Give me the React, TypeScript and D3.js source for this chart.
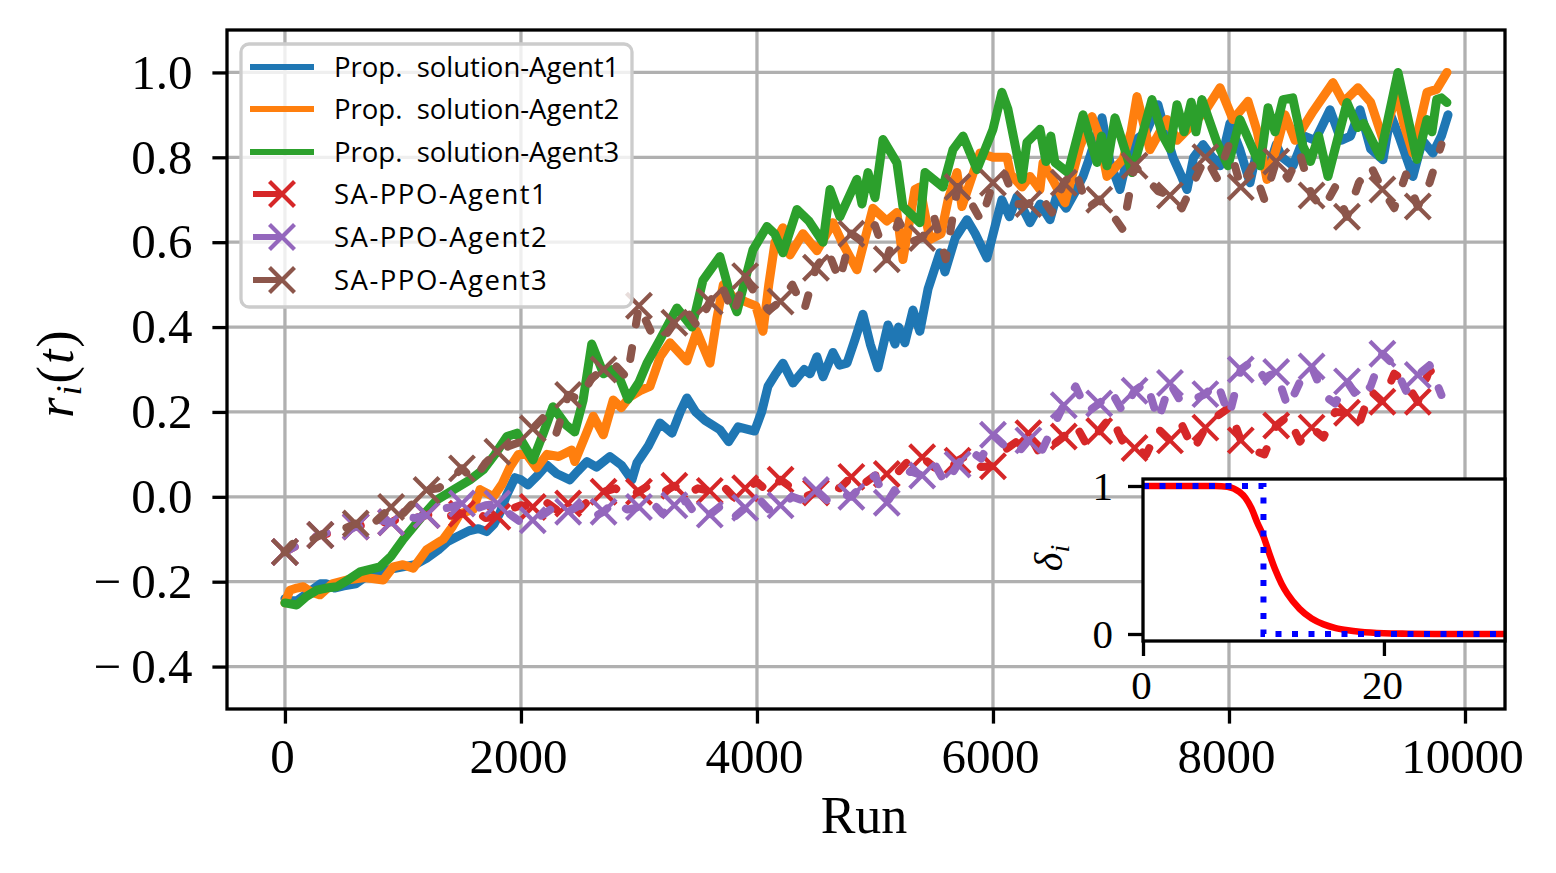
// App.tsx
import React, { useEffect, useRef } from 'react';
import * as d3 from 'd3';

const width = 1556;
const height = 873;

const xTicks = [0, 2000, 4000, 6000, 8000, 10000];
const yTicks = [-0.4, -0.2, 0, 0.2, 0.4, 0.6, 0.8, 1.0];

// proposed solution
const blueRuns = [0, 60, 100, 200, 300, 350, 420, 500, 600, 700, 800, 900, 1000, 1100, 1200, 1300, 1380, 1458, 1560, 1640, 1709, 1770, 1822, 1880, 1949, 2000, 2059, 2140, 2218, 2300, 2415, 2480, 2559, 2640, 2754, 2850, 2940, 2983, 3080, 3178, 3280, 3350, 3406, 3480, 3560, 3686, 3760, 3840, 3980, 4040, 4093, 4160, 4220, 4305, 4400, 4450, 4508, 4560, 4644, 4700, 4763, 4830, 4898, 4960, 5025, 5110, 5170, 5200, 5254, 5322, 5380, 5450, 5550, 5593, 5680, 5780, 5850, 5949, 6020, 6076, 6140, 6203, 6314, 6400, 6483, 6540, 6620, 6700, 6763, 6820, 6924, 6990, 7076, 7140, 7203, 7300, 7398, 7460, 7525, 7590, 7644, 7700, 7780, 7860, 7924, 8008, 8090, 8178, 8240, 8322, 8400, 8450, 8542, 8640, 8730, 8856, 8950, 9030, 9110, 9200, 9305, 9370, 9440, 9559, 9640, 9729, 9800, 9856];
const blueVals = [-0.24, -0.245, -0.245, -0.225, -0.205, -0.205, -0.215, -0.21, -0.205, -0.185, -0.18, -0.17, -0.165, -0.16, -0.145, -0.125, -0.105, -0.094, -0.08, -0.075, -0.082, -0.065, -0.038, 0.005, 0.045, 0.04, 0.028, 0.05, 0.075, 0.055, 0.04, 0.06, 0.083, 0.07, 0.095, 0.075, 0.04, 0.08, 0.12, 0.174, 0.15, 0.2, 0.233, 0.2, 0.18, 0.158, 0.13, 0.165, 0.155, 0.2, 0.26, 0.29, 0.315, 0.268, 0.3, 0.29, 0.33, 0.283, 0.34, 0.31, 0.315, 0.37, 0.43, 0.36, 0.304, 0.405, 0.36, 0.4, 0.363, 0.44, 0.39, 0.49, 0.575, 0.53, 0.61, 0.653, 0.62, 0.563, 0.64, 0.7, 0.66, 0.707, 0.646, 0.69, 0.653, 0.71, 0.68, 0.72, 0.755, 0.8, 0.893, 0.79, 0.724, 0.8, 0.84, 0.86, 0.924, 0.86, 0.8, 0.76, 0.724, 0.8, 0.83, 0.8, 0.78, 0.88, 0.82, 0.74, 0.82, 0.764, 0.83, 0.8, 0.78, 0.85, 0.84, 0.912, 0.84, 0.85, 0.912, 0.82, 0.794, 0.9, 0.85, 0.755, 0.84, 0.81, 0.85, 0.9];

const orangeRuns = [0, 42, 100, 155, 225, 297, 400, 522, 680, 833, 918, 1000, 1088, 1200, 1342, 1420, 1483, 1596, 1653, 1766, 1840, 1907, 1978, 2048, 2133, 2220, 2320, 2429, 2456, 2540, 2613, 2698, 2782, 2850, 2920, 3010, 3093, 3180, 3263, 3406, 3490, 3602, 3660, 3715, 3800, 3900, 3990, 4051, 4100, 4153, 4220, 4280, 4390, 4508, 4644, 4720, 4847, 4983, 5100, 5186, 5237, 5339, 5380, 5466, 5560, 5620, 5695, 5737, 5890, 6000, 6085, 6119, 6150, 6246, 6314, 6398, 6424, 6520, 6610, 6737, 6839, 6900, 6966, 7102, 7170, 7220, 7330, 7474, 7559, 7700, 7800, 7924, 8034, 8161, 8240, 8322, 8400, 8475, 8560, 8712, 8881, 8970, 9093, 9200, 9305, 9424, 9480, 9559, 9678, 9760, 9847];
const orangeVals = [-0.25, -0.22, -0.215, -0.212, -0.225, -0.231, -0.205, -0.196, -0.19, -0.196, -0.165, -0.16, -0.168, -0.125, -0.1, -0.07, -0.04, -0.03, 0.017, 0, 0.03, 0.07, 0.1, 0.1, 0.068, 0.1, 0.095, 0.11, 0.083, 0.14, 0.19, 0.146, 0.228, 0.21, 0.235, 0.25, 0.26, 0.33, 0.363, 0.32, 0.39, 0.315, 0.42, 0.5, 0.47, 0.46, 0.45, 0.39, 0.5, 0.6, 0.634, 0.57, 0.62, 0.58, 0.646, 0.6, 0.535, 0.68, 0.65, 0.67, 0.559, 0.724, 0.73, 0.606, 0.62, 0.7, 0.764, 0.684, 0.81, 0.8, 0.8, 0.8, 0.76, 0.73, 0.755, 0.724, 0.787, 0.74, 0.693, 0.825, 0.896, 0.85, 0.755, 0.795, 0.86, 0.943, 0.818, 0.889, 0.84, 0.88, 0.91, 0.964, 0.889, 0.932, 0.86, 0.748, 0.82, 0.9, 0.84, 0.908, 0.976, 0.93, 0.964, 0.93, 0.842, 0.953, 0.88, 0.81, 0.953, 0.96, 1.0];

const greenRuns = [0, 100, 180, 270, 350, 440, 540, 635, 805, 900, 1003, 1150, 1288, 1420, 1568, 1681, 1780, 1881, 1966, 2102, 2190, 2271, 2380, 2456, 2527, 2600, 2700, 2770, 2840, 2907, 3000, 3068, 3178, 3322, 3449, 3542, 3686, 3780, 3830, 3966, 4085, 4150, 4220, 4339, 4440, 4560, 4619, 4703, 4847, 4890, 4941, 5000, 5068, 5186, 5237, 5381, 5424, 5576, 5661, 5746, 5864, 6000, 6076, 6127, 6246, 6288, 6398, 6450, 6490, 6525, 6636, 6763, 6881, 6920, 6966, 7034, 7178, 7347, 7441, 7500, 7559, 7620, 7680, 7720, 7771, 7898, 7992, 8093, 8263, 8331, 8390, 8458, 8540, 8627, 8690, 8760, 8839, 9000, 9090, 9140, 9280, 9432, 9593, 9678, 9720, 9760, 9800, 9847];
const greenVals = [-0.25, -0.255, -0.235, -0.22, -0.215, -0.212, -0.195, -0.177, -0.165, -0.14, -0.1, -0.05, -0.007, 0.015, 0.04, 0.064, 0.1, 0.142, 0.15, 0.087, 0.15, 0.212, 0.17, 0.153, 0.228, 0.36, 0.29, 0.3, 0.276, 0.23, 0.27, 0.315, 0.37, 0.445, 0.4, 0.51, 0.566, 0.47, 0.436, 0.582, 0.637, 0.62, 0.575, 0.677, 0.65, 0.6, 0.724, 0.66, 0.748, 0.69, 0.764, 0.705, 0.842, 0.787, 0.684, 0.646, 0.764, 0.73, 0.818, 0.85, 0.771, 0.866, 0.953, 0.913, 0.748, 0.835, 0.866, 0.79, 0.85, 0.788, 0.764, 0.9, 0.788, 0.85, 0.78, 0.893, 0.764, 0.936, 0.85, 0.82, 0.924, 0.86, 0.93, 0.86, 0.936, 0.835, 0.78, 0.889, 0.78, 0.917, 0.86, 0.936, 0.94, 0.826, 0.79, 0.85, 0.755, 0.929, 0.87, 0.88, 0.802, 1.0, 0.795, 0.889, 0.86, 0.936, 0.94, 0.929];

// SA-PPO, one value every 100 runs, marker on every third
const saStep = 100;
const markEvery = 3;
const saRed = [-0.13, -0.115, -0.1, -0.09, -0.085, -0.08, -0.07, -0.065, -0.06, -0.06, -0.045, -0.05, -0.043, -0.035, -0.045, -0.04, -0.03, -0.05, -0.047, -0.03, -0.02, -0.024, -0.01, -0.03, -0.016, -0.03, 0, 0.012, 0.02, 0, 0.012, 0.03, 0.01, 0.026, 0.005, 0.02, 0.014, 0.03, 0, 0.02, 0.035, 0.01, 0.04, 0.02, 0, 0.01, 0.03, 0.02, 0.047, 0.03, 0.05, 0.054, 0.06, 0.09, 0.093, 0.07, 0.055, 0.085, 0.1, 0.07, 0.072, 0.11, 0.13, 0.15, 0.1, 0.12, 0.142, 0.17, 0.12, 0.155, 0.19, 0.13, 0.115, 0.1, 0.16, 0.133, 0.17, 0.11, 0.163, 0.19, 0.21, 0.133, 0.11, 0.1, 0.168, 0.19, 0.13, 0.163, 0.14, 0.2, 0.198, 0.17, 0.25, 0.224, 0.29, 0.27, 0.224, 0.3, 0.26];
const saPurple = [-0.13, -0.115, -0.1, -0.09, -0.08, -0.085, -0.07, -0.075, -0.055, -0.06, -0.045, -0.05, -0.043, -0.03, -0.025, -0.016, -0.03, -0.02, -0.016, -0.04, -0.06, -0.055, -0.04, -0.02, -0.035, -0.02, -0.05, -0.035, -0.01, -0.03, -0.024, -0.01, -0.04, -0.02, -0.01, -0.05, -0.042, -0.02, -0.05, -0.026, 0, -0.03, -0.02, 0, -0.01, 0.016, -0.01, 0.01, 0, 0.03, 0.05, -0.014, 0.03, 0.06, 0.05, 0.08, 0.03, 0.076, 0.11, 0.09, 0.146, 0.12, 0.1, 0.133, 0.1, 0.16, 0.216, 0.26, 0.2, 0.22, 0.25, 0.2, 0.25, 0.27, 0.18, 0.268, 0.22, 0.23, 0.242, 0.27, 0.19, 0.3, 0.32, 0.28, 0.294, 0.21, 0.27, 0.307, 0.24, 0.22, 0.272, 0.23, 0.26, 0.337, 0.31, 0.25, 0.287, 0.31, 0.24];
const saBrown = [-0.13, -0.1, -0.105, -0.09, -0.08, -0.075, -0.063, -0.075, -0.05, -0.024, -0.04, -0.01, 0.016, 0.02, 0.04, 0.067, 0.04, 0.08, 0.106, 0.12, 0.13, 0.161, 0.19, 0.15, 0.24, 0.23, 0.28, 0.3, 0.31, 0.28, 0.45, 0.39, 0.37, 0.41, 0.44, 0.4, 0.46, 0.5, 0.43, 0.52, 0.47, 0.44, 0.46, 0.5, 0.44, 0.54, 0.58, 0.51, 0.62, 0.6, 0.64, 0.56, 0.65, 0.6, 0.61, 0.66, 0.56, 0.73, 0.7, 0.65, 0.74, 0.76, 0.69, 0.69, 0.71, 0.67, 0.74, 0.77, 0.68, 0.7, 0.67, 0.63, 0.78, 0.75, 0.72, 0.71, 0.68, 0.74, 0.8, 0.75, 0.83, 0.73, 0.78, 0.7, 0.79, 0.75, 0.81, 0.71, 0.68, 0.73, 0.66, 0.74, 0.78, 0.724, 0.68, 0.76, 0.684, 0.74, 0.83];

// inset
const insetRedX = [0, 6, 7, 8, 8.5, 9, 9.5, 10, 10.5, 11, 11.5, 12, 13, 14, 15, 16, 17, 18, 20, 22, 25, 31];
const insetRedY = [1, 1, 0.995, 0.96, 0.92, 0.85, 0.75, 0.66, 0.54, 0.43, 0.34, 0.27, 0.17, 0.105, 0.065, 0.04, 0.025, 0.015, 0.005, 0.002, 0, 0];
const insetBlueX = [0, 10, 10, 31];
const insetBlueY = [1, 1, 0, 0];

const legendLabels = ['Prop.  solution-Agent1', 'Prop.  solution-Agent2', 'Prop.  solution-Agent3', 'SA-PPO-Agent1', 'SA-PPO-Agent2', 'SA-PPO-Agent3'];
const colors = ['#1f77b4', '#ff7f0e', '#2ca02c', '#d62728', '#9467bd', '#8c564b'];

const serif = '"Liberation Serif", serif';
const sans = '"Open Sans", sans-serif';
const lw = 6;
const dataLw = 9;
const thin = 3.3;

const App: React.FC = () => {
  const svgRef = useRef<SVGSVGElement>(null);

  useEffect(() => {
    if (!svgRef.current) return;
    const svg = d3.select(svgRef.current);
    svg.selectAll('*').remove();

    const left = 227, right = 1505, top = 30, bottom = 709;
    const x = d3.scaleLinear().domain([-491, 10339]).range([left, right]);
    const y = d3.scaleLinear().domain([-0.5, 1.1]).range([bottom, top]);

    svg.append('rect').attr('width', width).attr('height', height).attr('fill', '#fff');
    svg.append('defs').append('clipPath').attr('id', 'main-clip').append('rect')
      .attr('x', left).attr('y', top).attr('width', right - left).attr('height', bottom - top);

    // grid
    const grid = svg.append('g').attr('stroke', '#b0b0b0').attr('stroke-width', thin);
    xTicks.forEach(t => grid.append('line').attr('x1', x(t)).attr('x2', x(t)).attr('y1', top).attr('y2', bottom));
    yTicks.forEach(t => grid.append('line').attr('y1', y(t)).attr('y2', y(t)).attr('x1', left).attr('x2', right));

    const plot = svg.append('g').attr('clip-path', 'url(#main-clip)');
    const line = d3.line<[number, number]>().x(d => x(d[0])).y(d => y(d[1]));

    const solid = [
      { runs: blueRuns, vals: blueVals, c: colors[0] },
      { runs: orangeRuns, vals: orangeVals, c: colors[1] },
      { runs: greenRuns, vals: greenVals, c: colors[2] },
    ];
    solid.forEach(s => {
      plot.append('path')
        .datum(s.runs.map((r, i) => [r, s.vals[i]] as [number, number]))
        .attr('fill', 'none').attr('stroke', s.c).attr('stroke-width', dataLw)
        .attr('stroke-linejoin', 'round').attr('stroke-linecap', 'round').attr('d', line);
    });

    const xMark = (g: any, cx: number, cy: number, c: string) => {
      const r = 12.5;
      g.append('path').attr('d', `M${cx - r},${cy - r}L${cx + r},${cy + r}M${cx - r},${cy + r}L${cx + r},${cy - r}`)
        .attr('stroke', c).attr('stroke-width', 4.2).attr('fill', 'none');
    };

    [saRed, saPurple, saBrown].forEach((vals, k) => {
      const c = colors[3 + k];
      plot.append('path')
        .datum(vals.map((v, i) => [i * saStep, v] as [number, number]))
        .attr('fill', 'none').attr('stroke', c).attr('stroke-width', 8)
        .attr('stroke-linejoin', 'round').attr('stroke-linecap', 'round')
        .attr('stroke-dasharray', '11,24').attr('d', line);
      vals.forEach((v, i) => {
        if (i % markEvery === 0) xMark(plot, x(i * saStep), y(v), c);
      });
    });

    // spines and axes
    svg.append('rect').attr('x', left).attr('y', top).attr('width', right - left).attr('height', bottom - top)
      .attr('fill', 'none').attr('stroke', '#000').attr('stroke-width', thin);

    const xAxis = svg.append('g').attr('transform', `translate(0,${bottom})`)
      .call(d3.axisBottom(x).tickValues(xTicks).tickSize(14.6).tickPadding(15).tickFormat(d3.format('d') as any));
    const yAxis = svg.append('g').attr('transform', `translate(${left},0)`)
      .call(d3.axisLeft(y).tickValues(yTicks).tickSize(14.6).tickPadding(20)
        .tickFormat(((d: number) => d3.format('.1f')(d).replace('−', '−\u2009')) as any));
    [xAxis, yAxis].forEach(a => {
      a.select('.domain').remove();
      a.selectAll('line').attr('stroke', '#000').attr('stroke-width', thin);
      a.selectAll('text').attr('fill', '#000').style('font-family', serif).style('font-size', '49px');
    });
    xAxis.selectAll('text').attr('dx', -3);

    svg.append('text').attr('x', 864).attr('y', 833).attr('text-anchor', 'middle')
      .style('font-family', serif).style('font-size', '52px').text('Run');

    const rLabel = svg.append('text').attr('transform', 'translate(73,373) rotate(-90)').attr('text-anchor', 'middle')
      .style('font-family', serif).style('font-size', '52px').style('letter-spacing', '2px');
    rLabel.append('tspan').style('font-style', 'italic').text('r');
    rLabel.append('tspan').style('font-style', 'italic').style('font-size', '36px').attr('dy', 8).text('i');
    rLabel.append('tspan').attr('dy', -8).text('(');
    rLabel.append('tspan').style('font-style', 'italic').text('t');
    rLabel.append('tspan').text(')');

    // legend
    const lg = svg.append('g');
    lg.append('rect').attr('x', 241).attr('y', 44).attr('width', 391).attr('height', 263).attr('rx', 8)
      .attr('fill', '#fff').attr('fill-opacity', 0.8).attr('stroke', '#ccc').attr('stroke-width', thin);
    const rows = [67, 109, 152, 194, 237, 280];
    legendLabels.forEach((label, i) => {
      if (i < 3) {
        lg.append('line').attr('x1', 250).attr('x2', 314).attr('y1', rows[i]).attr('y2', rows[i])
          .attr('stroke', colors[i]).attr('stroke-width', lw);
      } else {
        lg.append('line').attr('x1', 253).attr('x2', 282).attr('y1', rows[i]).attr('y2', rows[i])
          .attr('stroke', colors[i]).attr('stroke-width', lw);
        xMark(lg, 282, rows[i], colors[i]);
      }
      lg.append('text').attr('x', 334).attr('y', rows[i] + 10)
        .style('white-space', 'pre').style('font-variant-ligatures', 'none')
        .style('letter-spacing', i < 3 ? '0px' : '1.5px')
        .style('font-family', sans).style('font-size', '27.5px').attr('fill', '#000').text(label);
    });

    // inset
    const iL = 1143, iR = 1505, iT = 479, iB = 641;
    const ix = d3.scaleLinear().domain([0, 30.05]).range([iL, iR]);
    const iy = d3.scaleLinear().domain([0, 1]).range([634, 486]);
    svg.append('rect').attr('x', iL).attr('y', iT).attr('width', iR - iL).attr('height', iB - iT).attr('fill', '#fff');
    svg.append('defs').append('clipPath').attr('id', 'inset-clip').append('rect')
      .attr('x', iL).attr('y', iT).attr('width', iR - iL).attr('height', iB - iT);
    const inset = svg.append('g').attr('clip-path', 'url(#inset-clip)');
    const iLine = d3.line<[number, number]>().x(d => ix(d[0])).y(d => iy(d[1]));
    inset.append('path').datum(insetRedX.map((v, i) => [v, insetRedY[i]] as [number, number]))
      .attr('fill', 'none').attr('stroke', '#f00').attr('stroke-width', 6.6).attr('d', iLine.curve(d3.curveMonotoneX));
    inset.append('path').datum(insetBlueX.map((v, i) => [v, insetBlueY[i]] as [number, number]))
      .attr('fill', 'none').attr('stroke', '#00f').attr('stroke-width', 6).attr('stroke-dasharray', '6,10.5')
      .attr('d', iLine.curve(d3.curveLinear));
    svg.append('rect').attr('x', iL).attr('y', iT).attr('width', iR - iL).attr('height', iB - iT)
      .attr('fill', 'none').attr('stroke', '#000').attr('stroke-width', thin);

    const ixAxis = svg.append('g').attr('transform', `translate(0,${iB})`)
      .call(d3.axisBottom(ix).tickValues([0, 20]).tickSize(15).tickPadding(14).tickFormat(d3.format('d') as any));
    const iyAxis = svg.append('g').attr('transform', `translate(${iL},0)`)
      .call(d3.axisLeft(iy).tickValues([0, 1]).tickSize(15).tickPadding(15).tickFormat(d3.format('d') as any));
    [ixAxis, iyAxis].forEach(a => {
      a.select('.domain').remove();
      a.selectAll('line').attr('stroke', '#000').attr('stroke-width', thin);
      a.selectAll('text').attr('fill', '#000').style('font-family', serif).style('font-size', '41px');
    });
    ixAxis.selectAll('text').attr('dx', -2);

    const dLabel = svg.append('text').attr('transform', 'translate(1062,558) rotate(-90)').attr('text-anchor', 'middle')
      .style('font-family', serif).style('font-style', 'italic').style('font-size', '40px');
    dLabel.append('tspan').text('δ');
    dLabel.append('tspan').style('font-size', '28px').attr('dy', 7).text('i');
  }, []);

  return (
    <svg ref={svgRef} width={width} height={height} viewBox={`0 0 ${width} ${height}`}
      style={{ position: 'absolute', left: 0, top: 0, display: 'block' }} />
  );
};

export default App;
